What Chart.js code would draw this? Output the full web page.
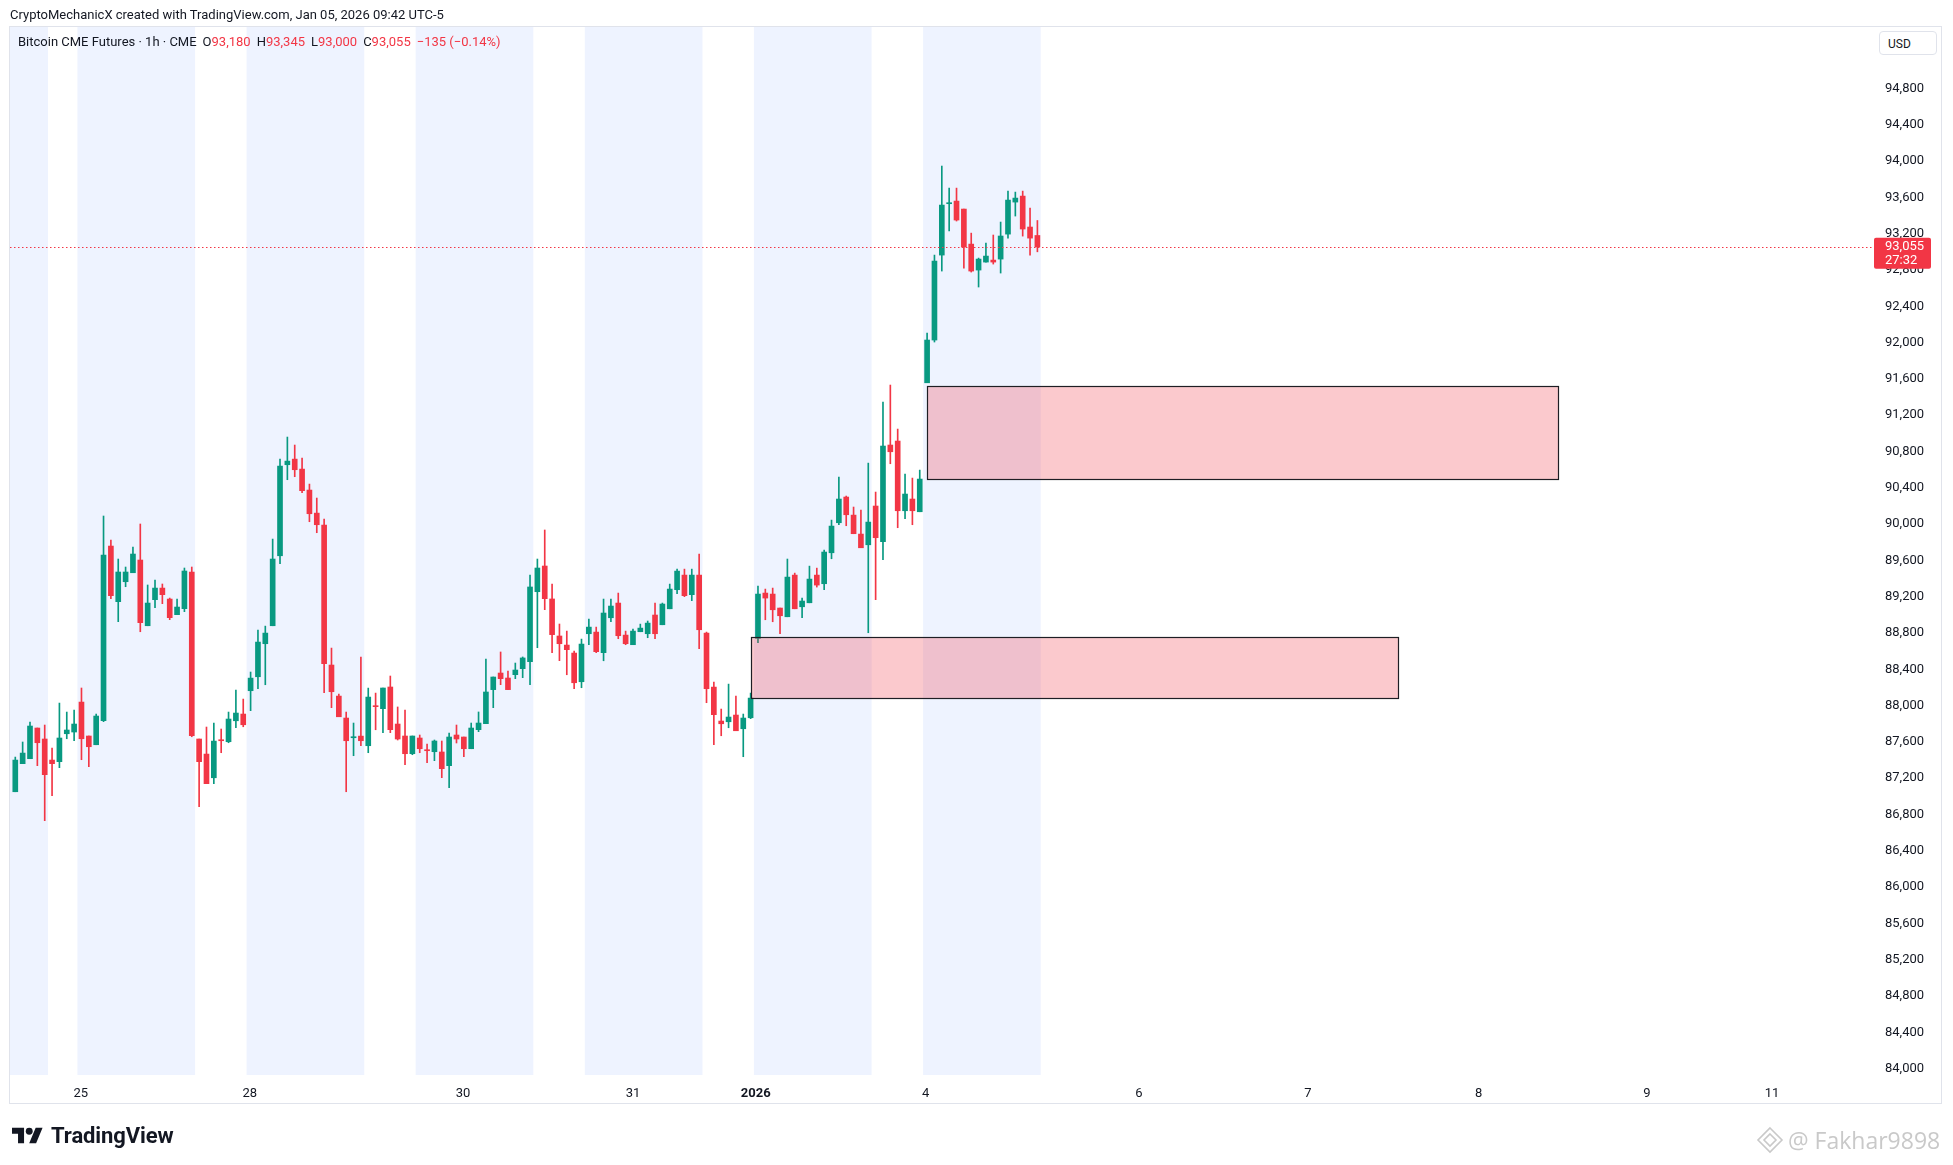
<!DOCTYPE html>
<html lang="en">
<head>
<meta charset="UTF-8">
<title>Bitcoin CME Futures · 1h · CME</title>
<script src="https://cdn.jsdelivr.net/npm/chart.js"></script>
<style>
    html, body { margin: 0; padding: 0; background: #fff; }
    body { width: 1953px; height: 1165px; position: relative; overflow: hidden;
           font-family: Roboto, "Liberation Sans", sans-serif; color: #131722; }
    #chart { position: absolute; left: 0; top: 0; }
    .frame { position: absolute; left: 9px; top: 26px; width: 1931px; height: 1076px;
             border: 1px solid #e0e3eb; box-sizing: content-box; pointer-events: none; }
    .title { position: absolute; left: 10px; top: 6px; font-size: 13px; line-height: 18px; }
    .legend { position: absolute; left: 18px; top: 33px; font-size: 13px; line-height: 18px; white-space: nowrap; }
    .legend .r { color: #f23645; }
    .legend .gap { display: inline-block; width: 6px; }
    .usd { position: absolute; left: 1879px; top: 31px; width: 58px; height: 24px; border: 1px solid #e0e3eb;
           border-radius: 4px; font-size: 12px; line-height: 24px; padding-left: 8px; box-sizing: border-box; background: #fff; }
    .logo { position: absolute; left: 12px; top: 1123px; display: flex; align-items: center; }
    .logo span { font-size: 22px; font-weight: bold; margin-left: 8px; letter-spacing: -0.1px; color: #131722; }
    .mark { position: absolute; left: 1756px; top: 1124px; display: flex; align-items: center; color: #c9c9c9; }
    .mark span { font-family: "Open Sans", sans-serif; font-size: 23px; margin-left: 4px; }
</style>
</head>
<body>
<canvas id="chart" width="1953" height="1165"></canvas>
<div class="frame"></div>
<div class="title">CryptoMechanicX created with TradingView.com, Jan 05, 2026 09:42 UTC-5</div>
<div class="legend">Bitcoin CME Futures · 1h · CME<span class="gap"></span>O<span class="r">93,180</span><span class="gap"></span>H<span class="r">93,345</span><span class="gap"></span>L<span class="r">93,000</span><span class="gap"></span>C<span class="r">93,055</span><span class="gap"></span><span class="r">−135 (−0.14%)</span></div>
<div class="usd">USD</div>
<div class="logo">
    <svg width="31" height="17" viewBox="0 4 36 18"><path d="M14 22H7V11H0V4h14v18zM28 22h-8l7.5-18h8L28 22z" fill="#131722"/><circle cx="20" cy="8" r="4" fill="#131722"/></svg>
    <span>TradingView</span>
</div>
<div class="mark">
    <svg width="28" height="28" viewBox="0 0 28 28"><g fill="none" stroke="#c9c9c9" stroke-width="1.6"><path d="M14 2 L26 14 L14 26 L2 14 Z"/><path d="M14 8 L20 14 L14 20 L8 14 Z"/></g></svg>
    <span>@ Fakhar9898</span>
</div>

<script>
    // hourly candles (bar index, OHLC)
    const opens = [87051, 87360, 87415, 87753, 87632, 87400, 87382, 87690, 87709, 88039,
        87665, 87569, 87834, 89758, 89145, 89365, 89464, 89604, 88880, 89167,
        89295, 89174, 89002, 89068, 89472, 87632, 87466, 87205, 87620, 87602,
        87833, 87907, 88164, 88318, 88682, 88880, 89651, 90654, 90716, 90606,
        90375, 90121, 89989, 88447, 88105, 87863, 87646, 87664, 87558, 87995,
        87966, 88205, 87797, 87665, 87470, 87643, 87511, 87492, 87489, 87338,
        87676, 87654, 87525, 87735, 87801, 88176, 88359, 88304, 88341, 88407,
        88484, 89255, 89538, 89175, 88767, 88667, 88579, 88263, 88792, 88810,
        88583, 88968, 89130, 88777, 88671, 88814, 88792, 88998, 88891, 89067,
        89277, 89438, 89222, 89438, 88799, 88204, 87830, 87822, 87896, 87745,
        87866, 88741, 89240, 89229, 89075, 88979, 89438, 89089, 89133, 89438,
        89343, 89684, 90015, 90298, 90099, 89890, 89772, 90199, 89806, 90871,
        90915, 90147, 90276, 90136, 91557, 92028, 92964, 93530, 93559, 93471,
        93085, 92799, 92887, 92909, 92920, 93195, 93548, 93614, 93273, 93180];
    const highs = [87433, 87599, 87819, 87753, 87786, 87533, 88028, 87929, 87951, 88194,
        87665, 87907, 90089, 89824, 89615, 89527, 89747, 90001, 89329, 89384,
        89340, 89185, 89174, 89516, 89527, 87632, 87764, 87808, 87742, 87929,
        88171, 88072, 88370, 88832, 88876, 89835, 90716, 90959, 90871, 90727,
        90441, 90287, 90055, 88634, 88127, 87929, 87808, 88535, 88193, 88138,
        88194, 88326, 87985, 87952, 87665, 87676, 87577, 87621, 87610, 87698,
        87786, 87654, 87808, 87930, 88513, 88315, 88591, 88381, 88469, 88536,
        89439, 89615, 89935, 89340, 88899, 88821, 88601, 88733, 88954, 88865,
        89174, 89174, 89240, 88821, 88843, 88898, 88932, 89130, 89130, 89339,
        89504, 89504, 89504, 89670, 88810, 88259, 87962, 88237, 88105, 87907,
        88138, 89317, 89284, 89295, 89075, 89615, 89460, 89185, 89537, 89515,
        89714, 90044, 90518, 90309, 90188, 90154, 90672, 90353, 91344, 91532,
        91047, 90551, 90507, 90595, 92105, 92964, 93945, 93702, 93702, 93471,
        93206, 92931, 93096, 93185, 93328, 93669, 93658, 93669, 93482, 93345];
    const lows = [87051, 87360, 87415, 87338, 86732, 87007, 87316, 87635, 87613, 87404,
        87327, 87569, 87823, 89178, 88925, 89310, 89464, 88814, 88880, 89079,
        89123, 88947, 89002, 89035, 87657, 86886, 87140, 87139, 87481, 87591,
        87756, 87767, 87944, 88186, 88230, 88880, 89563, 90489, 90522, 90346,
        90026, 89905, 88142, 87977, 87877, 87051, 87448, 87558, 87481, 87734,
        87702, 87702, 87621, 87349, 87459, 87481, 87371, 87393, 87206, 87096,
        87588, 87437, 87525, 87713, 87801, 87977, 88231, 88176, 88297, 88308,
        88231, 88638, 89057, 88583, 88495, 88340, 88186, 88197, 88671, 88583,
        88494, 88924, 88737, 88671, 88671, 88814, 88748, 88737, 88891, 89067,
        89233, 89200, 89156, 88627, 88032, 87569, 87668, 87756, 87723, 87437,
        87856, 88693, 88946, 88924, 88792, 88979, 89067, 88968, 89133, 89306,
        89277, 89618, 89993, 89982, 89894, 89739, 88803, 89167, 89607, 90665,
        89960, 90059, 89993, 90136, 91557, 92006, 92788, 93229, 93339, 92821,
        92777, 92612, 92887, 92865, 92766, 93151, 93394, 93173, 92964, 93000];
    const closes = [87400, 87477, 87775, 87591, 87239, 87360, 87643, 87731, 87797, 87635,
        87547, 87885, 89659, 89211, 89472, 89472, 89670, 88914, 89130, 89295,
        89222, 88969, 89086, 89483, 87668, 87382, 87140, 87609, 87613, 87852,
        87918, 87789, 88303, 88700, 88799, 89615, 90639, 90694, 90599, 90368,
        90114, 89993, 88461, 88153, 87877, 87613, 87653, 87613, 88094, 87988,
        88194, 87735, 87632, 87470, 87665, 87525, 87503, 87610, 87305, 87654,
        87632, 87525, 87753, 87808, 88150, 88315, 88297, 88176, 88392, 88525,
        89307, 89516, 89178, 88782, 88682, 88616, 88252, 88678, 88865, 88594,
        89020, 89097, 88770, 88682, 88821, 88854, 88909, 88792, 89119, 89284,
        89482, 89211, 89438, 88836, 88186, 87900, 87800, 87874, 87723, 87863,
        88083, 89229, 89185, 89056, 88990, 89416, 89067, 89152, 89394, 89328,
        89692, 89978, 90276, 90103, 89894, 89739, 90022, 89850, 90860, 90797,
        90147, 90331, 90147, 90496, 92028, 92898, 93515, 93537, 93350, 93052,
        92788, 92920, 92953, 92887, 93174, 93570, 93592, 93251, 93151, 93055];

    // session shading (bar index)
    const bandStarts = [-2, 8.45, 31.45, 54.45, 77.45, 100.45, 123.45];
    const bandEnds = [4.45, 24.45, 47.45, 70.45, 93.45, 116.45, 139.45];

    // drawn rectangles: bar index range and price range
    const boxStarts = [100.0, 124.0];
    const boxEnds = [188.0, 209.8];
    const boxTops = [88752, 91521];
    const boxBottoms = [88079, 90492];

    // axis ticks
    const timeTickPos = [8.9, 31.9, 60.9, 84.0, 100.7, 123.8, 152.8, 175.8, 199.0, 221.9, 238.9];
    const timeTickLabels = ['25', '28', '30', '31', '2026', '4', '6', '7', '8', '9', '11'];
    const priceTicks = [84000, 84400, 84800, 85200, 85600, 86000, 86400, 86800, 87200, 87600,
        88000, 88400, 88800, 89200, 89600, 90000, 90400, 90800, 91200, 91600,
        92000, 92400, 92800, 93200, 93600, 94000, 94400, 94800];

    const lastPrice = 93055;
    const countdown = '27:32';

    const UP = '#089981';
    const DOWN = '#f23645';
    const colors = closes.map((c, i) => c >= opens[i] ? UP : DOWN);

    const overlay = {
        id: 'tvOverlay',
        beforeDatasetsDraw(chart) {
            const { ctx, chartArea: a, scales: { x } } = chart;
            ctx.save();
            ctx.beginPath();
            ctx.rect(a.left, a.top, a.right - a.left, a.bottom - a.top);
            ctx.clip();
            ctx.fillStyle = 'rgba(41, 98, 255, 0.08)';
            bandStarts.forEach((s, k) => {
                const x0 = x.getPixelForValue(s);
                const x1 = x.getPixelForValue(bandEnds[k]);
                ctx.fillRect(x0, a.top, x1 - x0, a.bottom - a.top);
            });
            ctx.restore();
        },
        afterDatasetsDraw(chart) {
            const { ctx, chartArea: a, scales: { x, y } } = chart;
            ctx.save();
            // rectangles
            boxStarts.forEach((s, k) => {
                const x0 = Math.round(x.getPixelForValue(s)) + 0.5;
                const x1 = Math.round(x.getPixelForValue(boxEnds[k])) + 0.5;
                const y0 = Math.round(y.getPixelForValue(boxTops[k])) + 0.5;
                const y1 = Math.round(y.getPixelForValue(boxBottoms[k])) + 0.5;
                ctx.fillStyle = 'rgba(242, 54, 69, 0.27)';
                ctx.fillRect(x0, y0, x1 - x0, y1 - y0);
                ctx.strokeStyle = '#1e1e24';
                ctx.lineWidth = 1.2;
                ctx.strokeRect(x0, y0, x1 - x0, y1 - y0);
            });
            // last price line
            const py = Math.round(y.getPixelForValue(lastPrice)) + 0.5;
            ctx.strokeStyle = DOWN;
            ctx.lineWidth = 1;
            ctx.setLineDash([1.5, 2.5]);
            ctx.beginPath();
            ctx.moveTo(a.left, py);
            ctx.lineTo(a.right, py);
            ctx.stroke();
            ctx.restore();
        },
        afterDraw(chart) {
            const { ctx, chartArea: a, scales: { y } } = chart;
            const py = y.getPixelForValue(lastPrice);
            ctx.save();
            ctx.fillStyle = DOWN;
            ctx.beginPath();
            ctx.roundRect(a.right + 2, py - 9, 57, 31, 2);
            ctx.fill();
            ctx.fillStyle = '#fff';
            ctx.font = '13px Roboto';
            ctx.textBaseline = 'middle';
            ctx.textAlign = 'left';
            ctx.fillText(lastPrice.toLocaleString('en-US'), a.right + 13, py);
            ctx.fillText(countdown, a.right + 13, py + 14);
            ctx.restore();
        }
    };

    Chart.defaults.font.family = 'Roboto, "Liberation Sans", sans-serif';

    const idx = opens.map((_, i) => i);

    new Chart(document.getElementById('chart'), {
        type: 'bar',
        data: {
            datasets: [
                {
                    label: 'wick',
                    data: idx.map(i => ({ x: i, y: [lows[i], highs[i]] })),
                    backgroundColor: colors,
                    barThickness: 1,
                    grouped: false,
                    borderWidth: 0,
                    order: 2
                },
                {
                    label: 'body',
                    data: idx.map(i => ({ x: i, y: [opens[i], closes[i]] })),
                    backgroundColor: colors,
                    barThickness: 5,
                    minBarLength: 1,
                    grouped: false,
                    borderWidth: 0,
                    order: 1
                }
            ]
        },
        options: {
            responsive: false,
            animation: false,
            layout: { padding: { left: 10, top: 27, right: 13, bottom: 62 } },
            plugins: { legend: { display: false }, tooltip: { enabled: false } },
            scales: {
                x: {
                    type: 'linear',
                    offset: false,
                    min: -0.72,
                    max: 252.5,
                    grid: { display: false, offset: false },
                    border: { display: false },
                    ticks: {
                        autoSkip: false,
                        maxRotation: 0,
                        padding: 3,
                        color: '#131722',
                        font: ctx => ({ size: 13, weight: timeTickLabels[ctx.index] === '2026' ? 'bold' : 'normal' }),
                        callback: (v, i) => timeTickLabels[i]
                    },
                    afterBuildTicks: s => { s.ticks = timeTickPos.map(v => ({ value: v })); },
                    afterFit: s => { s.height = 28; }
                },
                y: {
                    type: 'linear',
                    position: 'right',
                    min: 83930,
                    max: 95477,
                    grid: { display: false, drawTicks: false },
                    border: { display: false },
                    ticks: {
                        padding: 13,
                        color: '#131722',
                        font: { size: 13 },
                        callback: v => v.toLocaleString('en-US')
                    },
                    afterBuildTicks: s => { s.ticks = priceTicks.map(v => ({ value: v })); },
                    afterFit: s => { s.width = 68; }
                }
            }
        },
        plugins: [overlay]
    });
</script>
</body>
</html>
